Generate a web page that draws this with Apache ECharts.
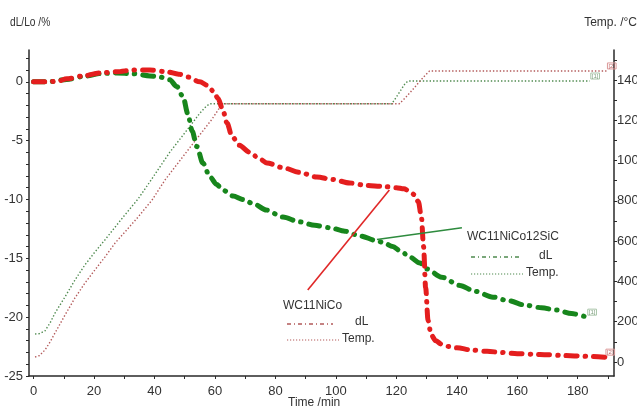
<!DOCTYPE html>
<html>
<head>
<meta charset="utf-8">
<script src="https://cdn.jsdelivr.net/npm/echarts@6/dist/echarts.min.js"></script>
<style>
  html, body { margin: 0; padding: 0; background: #fff; }
  #chart { width: 637px; height: 412px; }
</style>
</head>
<body>
<div id="chart"></div>
<script>
// Dilatometer run: relative length change dL/Lo (%) and furnace temperature (°C) against time (min)

// WC11NiCo — shrinkage curve
const niCoTime = [0, 4, 8, 11, 16.5, 22, 27.5, 33, 38.5, 44, 48, 51, 55, 57.5, 59.5, 61, 62.5, 64, 65.6, 68, 71.6, 74.5, 77.2, 82.5, 88, 93.7, 99, 104.6, 110, 115.7, 120, 122.5, 124.5, 126, 127.3, 128.3, 129, 129.7, 130.5, 131.5, 133, 135, 137.5, 140, 145, 150, 155, 160, 165, 170, 175, 180, 185, 189];
const niCoDL = [0, 0, 0.05, 0.25, 0.5, 0.75, 0.85, 1.0, 1.0, 0.85, 0.65, 0.4, 0.0, -0.3, -0.8, -1.4, -2.3, -3.5, -4.6, -5.4, -6.0, -6.5, -6.9, -7.3, -7.7, -8.1, -8.3, -8.6, -8.8, -8.9, -9.0, -9.1, -9.3, -9.6, -10.2, -11.5, -14.0, -17.5, -20.3, -21.5, -22.0, -22.3, -22.5, -22.6, -22.8, -22.9, -23.0, -23.1, -23.15, -23.2, -23.25, -23.3, -23.35, -23.4];

// WC11NiCo — temperature programme
const niCoTempTime = [0.5, 2, 3.8, 5.5, 7.1, 10.4, 13.7, 17, 20.3, 23.6, 27, 30.2, 34.6, 39.2, 43.5, 48, 52, 56, 59, 61, 62.3, 70, 80, 90, 100, 110, 121, 123, 125, 127, 129, 131, 140, 150, 160, 170, 180, 189.5];
const niCoTemp = [25, 32, 60, 100, 144, 233, 318, 392, 457, 521, 591, 645, 720, 804, 904, 992, 1070, 1147, 1205, 1250, 1282, 1282, 1282, 1282, 1282, 1282, 1282, 1312, 1345, 1380, 1415, 1445, 1445, 1445, 1445, 1445, 1445, 1445];

// WC11NiCo12SiC — shrinkage curve
const siCTime = [0, 5, 11, 16.5, 22, 27.5, 33, 38.5, 41.8, 45, 47.4, 49.5, 51, 52.5, 54, 56, 58.4, 60.5, 62.6, 66, 69.3, 73, 77, 82.5, 88, 93, 98, 103, 108, 113.5, 116, 118.8, 121.5, 124.5, 127.8, 130, 135, 141, 146, 152, 157, 163, 168, 173, 178, 183];
const siCDL = [0, 0, 0.2, 0.45, 0.7, 0.75, 0.68, 0.5, 0.4, 0.17, -0.4, -1.3, -2.7, -4.2, -5.5, -6.9, -8.1, -8.7, -9.2, -9.7, -10.0, -10.4, -10.9, -11.5, -11.9, -12.2, -12.4, -12.7, -13.1, -13.5, -13.7, -14.0, -14.4, -14.9, -15.4, -15.9, -16.6, -17.3, -17.8, -18.3, -18.6, -19.0, -19.2, -19.4, -19.7, -20.0];

// WC11NiCo12SiC — temperature programme
const siCTempTime = [0.5, 2, 3.8, 5.5, 7.1, 10.4, 13.7, 17, 20.3, 23.6, 27, 30.2, 34.6, 38.5, 45, 51.7, 55, 57, 58.3, 70, 80, 90, 100, 110, 118.5, 120, 121.5, 123, 124, 130, 140, 150, 160, 170, 180, 184];
const siCTemp = [139, 141, 155, 195, 243, 323, 407, 482, 546, 606, 670, 730, 810, 895, 1040, 1170, 1235, 1268, 1282, 1282, 1282, 1282, 1282, 1282, 1282, 1315, 1350, 1385, 1395, 1395, 1395, 1395, 1395, 1395, 1395, 1395];

// Axis ticks and labels
const timeTicks = [0, 10, 20, 30, 40, 50, 60, 70, 80, 90, 100, 110, 120, 130, 140, 150, 160, 170, 180, 190];
const timeLabels = [0, 20, 40, 60, 80, 100, 120, 140, 160, 180];
const dlTicks = [-25, -24, -23, -22, -21, -20, -19, -18, -17, -16, -15, -14, -13, -12, -11, -10, -9, -8, -7, -6, -5, -4, -3, -2, -1, 0, 1, 2];
const dlLabels = [-25, -20, -15, -10, -5, 0];
const tempTicks = [0, 100, 200, 300, 400, 500, 600, 700, 800, 900, 1000, 1100, 1200, 1300, 1400, 1500];
const tempLabels = [0, 200, 400, 600, 800, 1000, 1200, 1400];

// Callout leader lines (time, dL)
const niCoLeader = [[90.7, -17.7], [117.7, -9.2]];
const siCLeader = [[113.6, -13.4], [141.7, -12.4]];

const FONT = '"Liberation Sans Narrow", "Liberation Sans", Arial, sans-serif';
const RED = '#e41e1e';
const GREEN = '#17861c';
const RED_T = '#b35a5a';
const GREEN_T = '#4f8a4f';
const AXIS = '#2a2a2a';

const zip = (a, b) => a.map((v, i) => [v, b[i]]);
const plain = (v) => String(v);

const tagLabel = (text, color, border) => ({
  show: true,
  formatter: text,
  fontFamily: FONT,
  fontSize: 6,
  color: color,
  borderColor: border,
  borderWidth: 1,
  padding: [0, 1],
  distance: 1,
  offset: [0, -5]
});

const dashDot = [11, 8, 0.5, 8];

const axisLabelStyle = { fontFamily: FONT, fontSize: 13, color: '#333', formatter: plain };

const chart = echarts.init(document.getElementById('chart'), null, { renderer: 'canvas' });

chart.setOption({
  animation: false,
  backgroundColor: '#fff',
  textStyle: { fontFamily: FONT },
  grid: { left: 29, right: 23, top: 50, bottom: 36, containLabel: false, outerBoundsMode: 'none' },
  xAxis: {
    type: 'value',
    min: -1.5,
    max: 192,
    splitLine: { show: false },
    axisLine: { show: true, onZero: false, lineStyle: { color: AXIS, width: 1.5 } },
    axisTick: { show: true, length: 3, customValues: timeTicks, lineStyle: { color: AXIS } },
    axisLabel: Object.assign({ customValues: timeLabels, margin: 9 }, axisLabelStyle)
  },
  yAxis: [
    {
      type: 'value',
      position: 'left',
      min: -25,
      max: 2.7,
      splitLine: { show: false },
      axisLine: { show: true, onZero: false, lineStyle: { color: AXIS, width: 1.5 } },
      axisTick: { show: true, length: 3, customValues: dlTicks, lineStyle: { color: AXIS } },
      axisLabel: Object.assign({ customValues: dlLabels, margin: 6 }, axisLabelStyle)
    },
    {
      type: 'value',
      position: 'right',
      min: -69.5,
      max: 1549,
      splitLine: { show: false },
      axisLine: { show: true, onZero: false, lineStyle: { color: AXIS, width: 1.5 } },
      axisTick: { show: true, length: 3, customValues: tempTicks, lineStyle: { color: AXIS } },
      axisLabel: Object.assign({ customValues: tempLabels, margin: 3 }, axisLabelStyle)
    }
  ],
  series: [
    {
      name: 'WC11NiCo12SiC Temp.',
      type: 'line',
      yAxisIndex: 1,
      data: zip(siCTempTime, siCTemp),
      showSymbol: false,
      lineStyle: { color: GREEN_T, width: 1.4, type: [1.4, 2] },
      endLabel: tagLabel('[1]', '#7fa07f', '#a8c4a8')
    },
    {
      name: 'WC11NiCo Temp.',
      type: 'line',
      yAxisIndex: 1,
      data: zip(niCoTempTime, niCoTemp),
      showSymbol: false,
      lineStyle: { color: RED_T, width: 1.4, type: [1.4, 2] },
      endLabel: tagLabel('[2]', '#c06a6a', '#dc9a9a')
    },
    {
      name: 'WC11NiCo12SiC dL',
      type: 'line',
      yAxisIndex: 0,
      data: zip(siCTime, siCDL),
      showSymbol: false,
      smooth: 0.3,
      smoothMonotone: 'x',
      lineStyle: { color: GREEN, width: 5, type: dashDot, cap: 'round' },
      endLabel: tagLabel('[1]', '#7fa07f', '#a8c4a8')
    },
    {
      name: 'WC11NiCo dL',
      type: 'line',
      yAxisIndex: 0,
      data: zip(niCoTime, niCoDL),
      showSymbol: false,
      smooth: 0.3,
      smoothMonotone: 'x',
      lineStyle: { color: RED, width: 5, type: dashDot, cap: 'round' },
      endLabel: tagLabel('[2]', '#c06a6a', '#dc9a9a')
    },
    {
      name: 'WC11NiCo callout',
      type: 'line',
      yAxisIndex: 0,
      data: niCoLeader,
      showSymbol: false,
      lineStyle: { color: '#e02828', width: 1.6 },
      z: 5
    },
    {
      name: 'WC11NiCo12SiC callout',
      type: 'line',
      yAxisIndex: 0,
      data: siCLeader,
      showSymbol: false,
      lineStyle: { color: '#2e8b3e', width: 1.6 },
      z: 5
    }
  ],
  graphic: [
    // axis titles
    { type: 'text', left: 10, top: 17, scaleX: 0.85, style: { text: 'dL/Lo /%', font: '12px ' + FONT, fill: '#333' } },
    { type: 'text', right: 0, top: 17, style: { text: 'Temp. /°C', font: '12px ' + FONT, fill: '#333' } },
    { type: 'text', left: 288, top: 397, style: { text: 'Time /min', font: '12px ' + FONT, fill: '#333' } },

    // WC11NiCo12SiC key
    { type: 'text', left: 467, top: 231, style: { text: 'WC11NiCo12SiC', font: '12px ' + FONT, fill: '#333' } },
    { type: 'line', shape: { x1: 471, y1: 257, x2: 520, y2: 257 }, style: { stroke: GREEN_T, lineWidth: 1.3, lineDash: [4, 3, 1, 3] } },
    { type: 'text', left: 539, top: 250, style: { text: 'dL', font: '12px ' + FONT, fill: '#333' } },
    { type: 'line', shape: { x1: 471, y1: 274, x2: 523, y2: 274 }, style: { stroke: GREEN_T, lineWidth: 1.2, lineDash: [1.2, 1.8] } },
    { type: 'text', left: 526, top: 267, style: { text: 'Temp.', font: '12px ' + FONT, fill: '#333' } },

    // WC11NiCo key
    { type: 'text', left: 283, top: 300, style: { text: 'WC11NiCo', font: '12px ' + FONT, fill: '#333' } },
    { type: 'line', shape: { x1: 287, y1: 324, x2: 333, y2: 324 }, style: { stroke: RED_T, lineWidth: 1.3, lineDash: [4, 3, 1, 3] } },
    { type: 'text', left: 355, top: 316, style: { text: 'dL', font: '12px ' + FONT, fill: '#333' } },
    { type: 'line', shape: { x1: 287, y1: 340, x2: 339, y2: 340 }, style: { stroke: RED_T, lineWidth: 1.2, lineDash: [1.2, 1.8] } },
    { type: 'text', left: 342, top: 333, style: { text: 'Temp.', font: '12px ' + FONT, fill: '#333' } }
  ]
});
</script>
</body>
</html>
